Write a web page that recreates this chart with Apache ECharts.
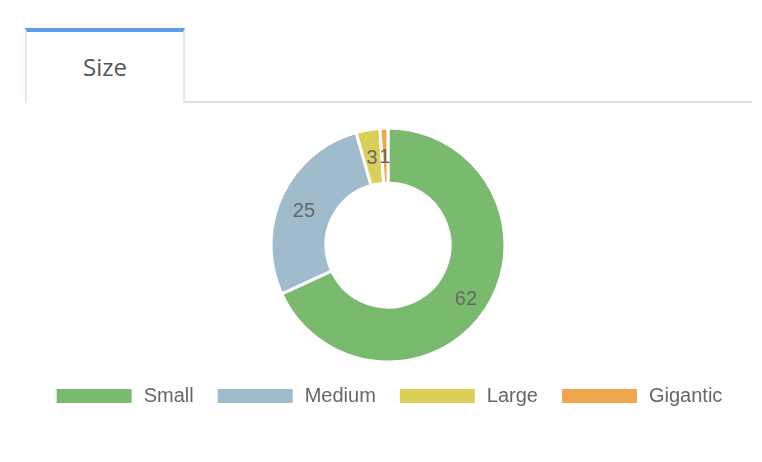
<!DOCTYPE html>
<html>
<head>
<meta charset="utf-8">
<script src="https://cdn.jsdelivr.net/npm/echarts@6/dist/echarts.min.js"></script>
<style>
  html, body { margin: 0; padding: 0; background: #fff; width: 762px; height: 462px; overflow: hidden; }
  #tab { position: absolute; left: 25px; top: 28px; width: 156px; height: 71px;
         border-top: 4px solid #5b9fea; border-left: 2px solid #e8e8e8; border-right: 2px solid #e8e8e8;
         background: #fff; box-shadow: 0 -2px 6px rgba(0,0,0,0.04);
         font-family: "Open Sans", sans-serif; font-size: 24px; color: #555;
         text-align: center; line-height: 70px; }
  #tabline { position: absolute; left: 185px; top: 101px; width: 567px; height: 2px; background: #dedede; }
  #chart { position: absolute; left: 25px; top: 0; width: 727px; height: 462px; }
</style>
</head>
<body>
<div id="tab">Size</div>
<div id="tabline"></div>
<div id="chart"></div>
<script>
const categories = ["Small", "Medium", "Large", "Gigantic"];
const values = [62, 25, 3, 1];
const colors = ["#79ba6f", "#a0bbcc", "#dccf59", "#eea64f"];

const chart = echarts.init(document.getElementById('chart'), null, { renderer: 'canvas' });
chart.setOption({
  animation: false,
  color: colors,
  legend: {
    data: categories,
    left: 'center',
    top: 381,
    itemWidth: 77,
    itemHeight: 16,
    itemGap: 22,
    icon: 'rect',
    textStyle: { fontFamily: 'Liberation Sans, Arial, sans-serif', fontSize: 20, color: '#666', padding: [0, 0, 0, 6] }
  },
  series: [{
    type: 'pie',
    center: [363, 245],
    radius: [62, 117],
    startAngle: 90,
    clockwise: true,
    avoidLabelOverlap: false,
    itemStyle: { borderColor: '#fff', borderWidth: 3 },
    label: { show: true, position: 'inside', formatter: '{c}', offset: [0, 5], fontFamily: 'Liberation Sans, Arial, sans-serif', fontSize: 20, color: '#666' },
    labelLine: { show: false },
    data: categories.map((n, i) => ({ name: n, value: values[i] }))
  }]
});
</script>
</body>
</html>
